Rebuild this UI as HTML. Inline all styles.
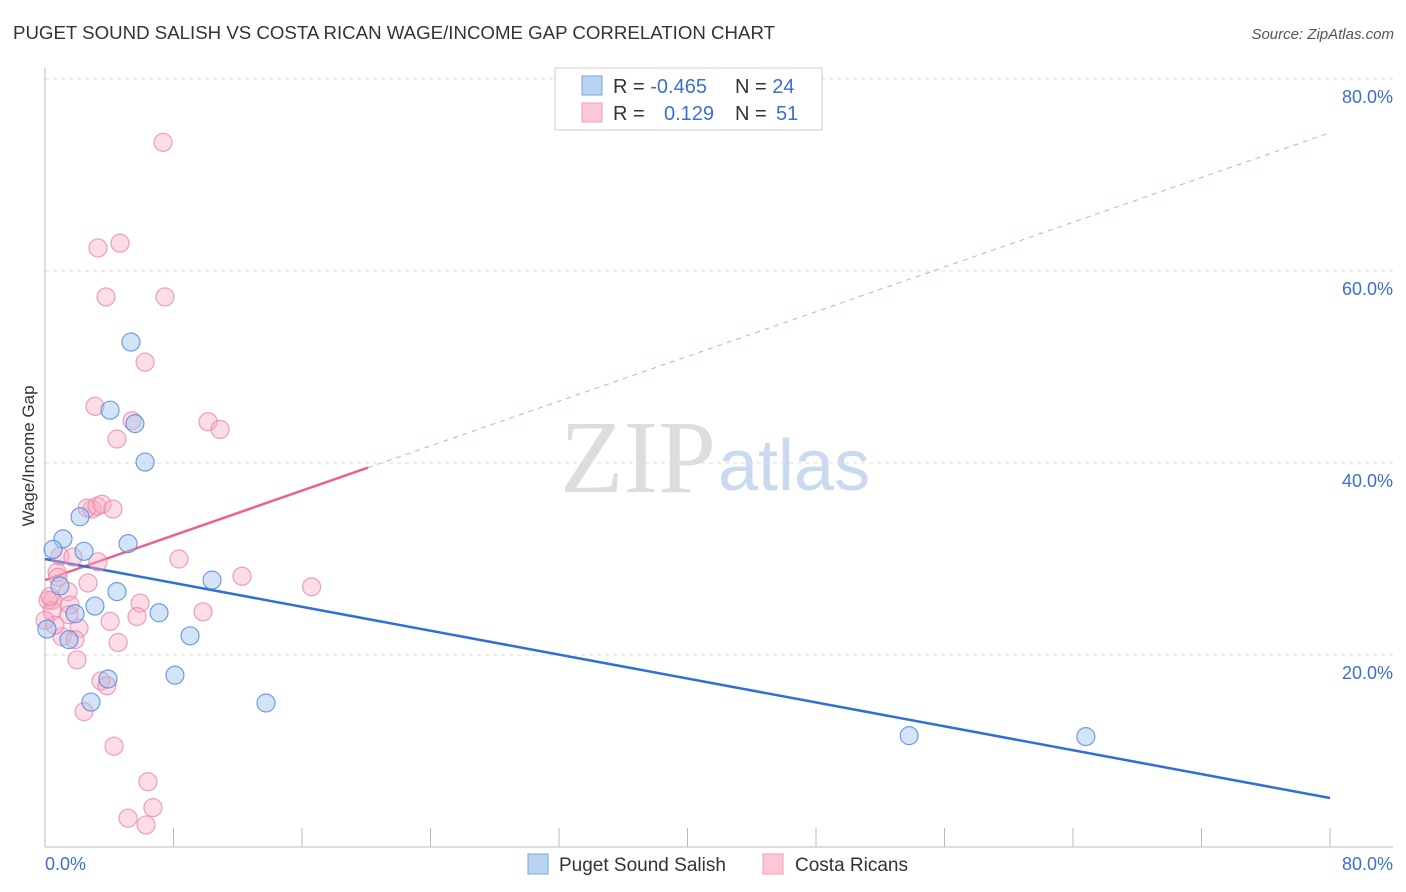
<!DOCTYPE html>
<html><head><meta charset="utf-8"><style>
body{margin:0;background:#fff;font-family:"Liberation Sans",sans-serif;}
svg{display:block}
</style></head><body>
<svg id="chart" width="1406" height="892" xmlns="http://www.w3.org/2000/svg">
<text x="13" y="39" font-size="18.5" fill="#333" textLength="762" lengthAdjust="spacingAndGlyphs">PUGET SOUND SALISH VS COSTA RICAN WAGE/INCOME GAP CORRELATION CHART</text>
<text x="1394" y="39" font-size="15" fill="#555" font-style="italic" text-anchor="end">Source: ZipAtlas.com</text>
<text x="716" y="492" font-size="104" fill="#ddd" text-anchor="end" font-family="Liberation Serif">ZIP</text>
<text x="718" y="490" font-size="72" fill="#c9d9ef">atlas</text>
<g id="grid"></g>
<line x1="45" y1="68" x2="45" y2="847" stroke="#bbb"/>
<line x1="45" y1="847" x2="1393" y2="847" stroke="#bbb"/>
<text transform="translate(34,456) rotate(-90)" font-size="17" fill="#333" text-anchor="middle">Wage/Income Gap</text>
<text x="45" y="870" font-size="18" fill="#3b6fd4">0.0%</text>
<text x="1393" y="870" font-size="18" fill="#3b6fd4" text-anchor="end">80.0%</text>
<g id="lines"></g>
<g id="points"></g>
<g>
<rect x="555" y="68" width="267" height="62" fill="#fff" stroke="#ccc"/>
<rect x="582" y="76" width="20" height="19" fill="#b9d3f3" stroke="#7aa6e0"/>
<rect x="582" y="103" width="20" height="19" fill="#fcc8d6" stroke="#ef9fb6"/>
<text x="613" y="93" font-size="20" fill="#333">R = <tspan fill="#3b6fd4">-0.465</tspan><tspan x="735">N = </tspan><tspan fill="#3b6fd4">24</tspan></text>
<text x="613" y="120" font-size="20" fill="#333">R = <tspan x="664" fill="#3b6fd4">0.129</tspan><tspan x="735">N = </tspan><tspan x="776" fill="#3b6fd4">51</tspan></text>
</g>
<g>
<rect x="528" y="854" width="20" height="20" fill="#b9d3f3" stroke="#7aa6e0"/>
<text x="559" y="871" font-size="19" fill="#333">Puget Sound Salish</text>
<rect x="763" y="854" width="20" height="20" fill="#fcc8d6" stroke="#ef9fb6"/>
<text x="795" y="871" font-size="19" fill="#333">Costa Ricans</text>
</g>
</svg>
<script>
const yTicks=[20,40,60,80];
const yTickLabels=["20.0%","40.0%","60.0%","80.0%"];
const xTicks=[8,16,24,32,40,48,56,64,72,80];
const blueX=[5.35,4.05,5.6,6.23,2.18,1.12,0.5,2.43,5.17,0.93,4.48,3.11,1.87,0.12,1.49,7.1,9.03,10.4,3.92,8.09,2.86,13.76,53.8,64.8];
const blueY=[52.6,45.5,44.1,40.1,34.4,32.1,31.0,30.8,31.6,27.2,26.6,25.1,24.3,22.7,21.6,24.4,22.0,27.8,17.5,17.9,15.1,15.0,11.6,11.5];
const pinkX=[7.35,3.3,4.67,3.8,7.47,6.23,3.11,5.42,4.48,10.15,10.9,2.93,2.62,3.24,3.55,4.23,0.93,1.74,3.3,8.34,12.27,16.6,0.75,0.81,2.68,0.44,0.19,1.43,1.56,0.44,1.49,5.92,4.05,5.73,2.12,9.84,1.06,1.87,4.55,1.99,3.49,3.86,2.43,4.3,6.41,6.72,5.17,6.29,0.31,0.62,0];
const pinkY=[73.4,62.4,62.9,57.3,57.3,50.5,45.9,44.4,42.5,44.3,43.5,35.2,35.3,35.5,35.7,35.2,30.3,30.2,29.7,30.0,28.2,27.1,28.6,28.1,27.5,25.7,25.7,26.6,25.2,24.6,24.2,25.4,23.5,24.0,22.8,24.5,21.9,21.6,21.3,19.5,17.3,16.8,14.1,10.5,6.8,4.1,3.0,2.3,26.1,23.1,23.6];
const blueTrend=[30.0,5.1];
const pinkTrend=[27.8,74.4];
const pinkSolidEnd=20.1;
const NS="http://www.w3.org/2000/svg";
function sx(v){return 45+v*(1330-45)/80;}
function sy(v){return 847-v*9.6;}
function mk(tag,attrs,parent){const e=document.createElementNS(NS,tag);for(const k in attrs)e.setAttribute(k,attrs[k]);parent.appendChild(e);return e;}
const grid=document.getElementById('grid');
yTicks.forEach((t,i)=>{
 const l=mk('line',{x1:45,x2:1393,y1:sy(t),y2:sy(t),stroke:'#ddd','stroke-dasharray':'4,4'},grid);
 
 
 const tx=mk('text',{x:1393,y:sy(t)+24,'font-size':18,fill:'#3b6fd4','text-anchor':'end'},grid);
 tx.textContent=yTickLabels[i];
 
 
});
xTicks.forEach(t=>{
 const l=mk('line',{x1:sx(t),x2:sx(t),y1:828,y2:847,stroke:'#bbb'},grid);
 
 
});
const lines=document.getElementById('lines');
const pinkAt=v=>pinkTrend[0]+(pinkTrend[1]-pinkTrend[0])*v/80;
let d=mk('line',{x1:sx(pinkSolidEnd),y1:sy(pinkAt(pinkSolidEnd)),x2:sx(80),y2:sy(pinkTrend[1]),stroke:'#e8a0b8','stroke-dasharray':'5,5','stroke-width':1},lines);


d=mk('line',{x1:sx(0),y1:sy(pinkTrend[0]),x2:sx(pinkSolidEnd),y2:sy(pinkAt(pinkSolidEnd)),stroke:'#e8628f','stroke-width':2.5},lines);


d=mk('line',{x1:sx(0),y1:sy(blueTrend[0]),x2:sx(80),y2:sy(blueTrend[1]),stroke:'#2f6fd6','stroke-width':2.5},lines);


const pts=document.getElementById('points');
pinkX.forEach((x,i)=>{
 const c=mk('circle',{cx:sx(x),cy:sy(pinkY[i]),r:9,fill:'rgba(248,170,195,0.4)',stroke:'rgba(232,130,165,0.75)','stroke-width':1.2},pts);
 
 
});
blueX.forEach((x,i)=>{
 const c=mk('circle',{cx:sx(x),cy:sy(blueY[i]),r:9,fill:'rgba(160,195,240,0.45)',stroke:'rgba(80,135,215,0.8)','stroke-width':1.2},pts);
 
 
});
</script>
</body></html>
